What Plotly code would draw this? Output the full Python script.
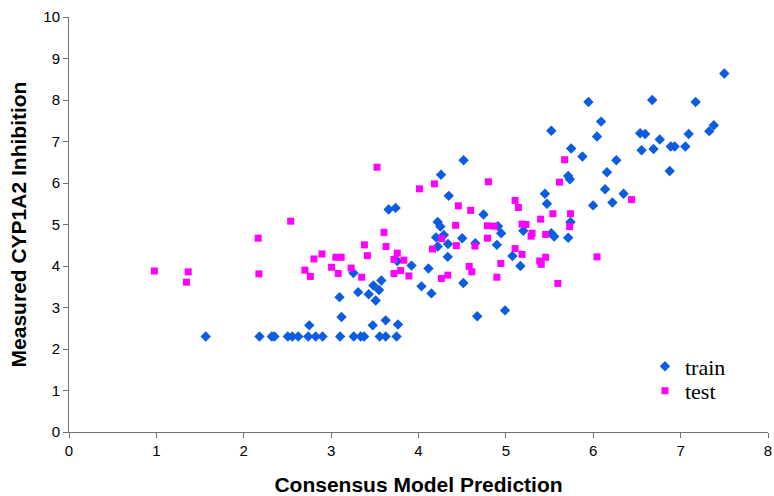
import plotly.graph_objects as go

train_x = [1.565, 2.18, 2.321, 2.351, 2.504, 2.556, 2.624, 2.738, 2.823, 2.902, 3.103, 3.259, 3.339, 3.377,
           3.556, 3.624, 3.749, 2.75, 3.476, 3.624, 3.765, 3.119, 3.096, 3.309, 3.43, 3.51, 3.548, 3.484,
           3.575, 3.255, 3.757, 3.92, 4.114, 4.034, 4.148, 3.658, 3.738, 4.516, 4.258, 4.346, 5.447, 5.47,
           4.744, 4.22, 4.25, 4.91, 5.74, 4.946, 5.2, 5.52, 5.553, 5.713, 4.201, 4.50, 4.29, 4.22, 4.338,
           4.65, 4.897, 4.335, 5.075, 5.166, 4.513, 4.99, 4.672, 5.713, 5.732, 5.52, 7.50, 5.945, 6.675,
           7.172, 6.089, 7.38, 7.328, 6.043, 6.537, 6.594, 7.092, 6.761, 6.553, 6.69, 6.887, 6.932, 7.054,
           6.875, 5.747, 5.876, 6.264, 6.157, 6.135, 6.347, 6.219, 5.998]
train_y = [2.30, 2.30, 2.30, 2.30, 2.30, 2.30, 2.30, 2.30, 2.30, 2.30, 2.30, 2.30, 2.30, 2.30,
           2.30, 2.30, 2.30, 2.57, 2.57, 2.69, 2.59, 2.77, 3.25, 3.37, 3.32, 3.17, 3.42, 3.53,
           3.65, 3.83, 4.12, 4.01, 3.94, 3.51, 3.34, 5.36, 5.40, 6.55, 6.20, 5.69, 5.74, 5.50,
           5.24, 5.06, 4.95, 4.96, 5.06, 4.79, 4.85, 4.79, 4.71, 4.68, 4.69, 4.67, 4.75, 4.47, 4.53,
           4.55, 4.51, 4.22, 4.24, 4.00, 3.59, 2.93, 2.79, 6.17, 6.09, 7.26, 8.64, 7.95, 8.00,
           7.95, 7.48, 7.39, 7.25, 7.12, 7.20, 7.18, 7.18, 7.05, 6.79, 6.82, 6.88, 6.88, 6.88,
           6.29, 6.83, 6.64, 6.55, 6.26, 5.85, 5.74, 5.53, 5.46]

test_x = [0.977, 1.364, 1.345, 2.165, 2.173, 2.537, 3.605, 3.381, 3.628, 3.415, 2.895, 2.803, 3.054,
          3.115, 3.757, 3.719, 3.833, 2.70, 2.762, 3.005, 3.081, 3.229, 3.35, 3.719, 3.795, 3.89, 3.525,
          5.672, 4.182, 4.011, 4.80, 5.614, 5.105, 5.143, 4.456, 4.597, 5.538, 5.74, 5.398, 4.425, 4.79,
          4.87, 5.185, 5.23, 5.73, 5.3, 5.288, 5.455, 4.266, 4.79, 4.433, 4.646, 4.16, 5.105, 5.185,
          5.455, 5.387, 5.405, 4.942, 4.58, 4.61, 4.335, 4.262, 4.897, 5.595, 6.043, 6.439]
test_y = [3.88, 3.86, 3.61, 4.67, 3.81, 5.08, 4.81, 4.51, 4.47, 4.25, 4.29, 4.17, 4.21,
          4.21, 4.31, 4.16, 4.14, 3.90, 3.75, 3.97, 3.82, 3.95, 3.73, 3.82, 3.89, 3.76, 6.38,
          6.56, 5.98, 5.86, 6.03, 6.02, 5.58, 5.41, 5.45, 5.34, 5.26, 5.26, 5.13, 4.98, 4.97,
          4.96, 5.01, 5.00, 4.95, 4.79, 4.72, 4.76, 4.66, 4.67, 4.49, 4.48, 4.41, 4.42, 4.28,
          4.21, 4.12, 4.04, 4.06, 3.99, 3.86, 3.78, 3.70, 3.73, 3.58, 4.22, 5.60]

x_ticks = [0, 1, 2, 3, 4, 5, 6, 7, 8]
y_ticks = [0, 1, 2, 3, 4, 5, 6, 7, 8, 9, 10]

fig = go.Figure()
fig.add_trace(go.Scatter(x=train_x, y=train_y, mode="markers", name="train", legend="legend",
                         marker=dict(symbol="diamond", size=8, color="#0A5CE0", line=dict(width=0))))
fig.add_trace(go.Scatter(x=test_x, y=test_y, mode="markers", name="test", legend="legend2",
                         marker=dict(symbol="square", size=7, color="#FF00FF", line=dict(width=0))))

axis_font = dict(family="Liberation Sans, Arial, sans-serif", size=15, color="#000000")
title_font = dict(family="Liberation Sans, Arial, sans-serif", size=21, color="#000000")
leg_font = dict(family="Liberation Serif, Times New Roman, serif", size=22, color="#000000")

leg_common = dict(xanchor="left", yanchor="middle", font=leg_font, bgcolor="rgba(0,0,0,0)",
                  itemsizing="trace", itemwidth=30, borderwidth=0)

fig.update_layout(
    width=774, height=496,
    margin=dict(l=69, r=2, t=17, b=64),
    paper_bgcolor="white", plot_bgcolor="white",
    showlegend=True,
    legend=dict(x=0.824, y=0.158, **leg_common),
    legend2=dict(x=0.824, y=0.099, **leg_common),
    xaxis=dict(range=[0, 8], tickvals=x_ticks, showgrid=False, zeroline=False,
               showline=True, linecolor="#707070", linewidth=1,
               ticks="outside", ticklen=5, tickcolor="#707070",
               tickfont=axis_font, ticklabeloverflow="allow",
               title=dict(text="<b>Consensus Model Prediction</b>", font=title_font, standoff=20)),
    yaxis=dict(range=[0, 10], tickvals=y_ticks, showgrid=False, zeroline=False,
               showline=True, linecolor="#707070", linewidth=1,
               ticks="outside", ticklen=5, tickcolor="#707070",
               tickfont=axis_font,
               title=dict(text="<b>Measured CYP1A2 Inhibition</b>", font=title_font, standoff=10)),
)

fig.write_html("out.html")
